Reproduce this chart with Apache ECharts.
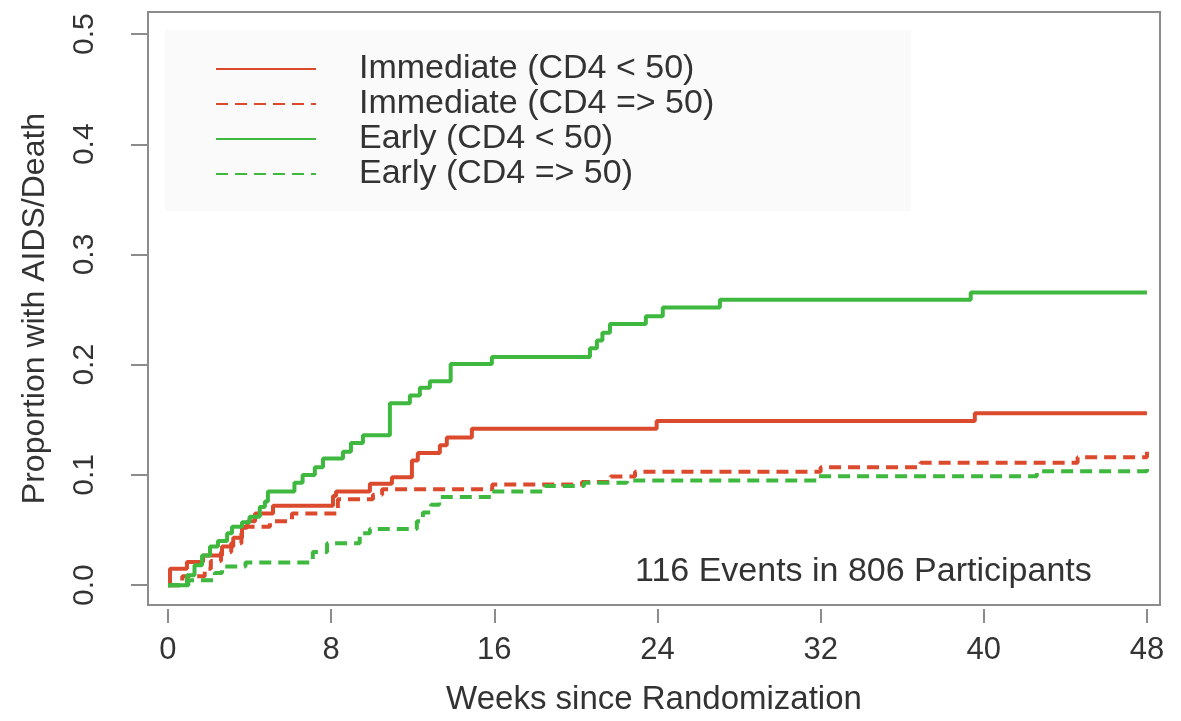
<!DOCTYPE html>
<html>
<head>
<meta charset="utf-8">
<script src="https://cdn.jsdelivr.net/npm/echarts@6/dist/echarts.min.js"></script>
<style>
  html, body { margin: 0; padding: 0; background: #ffffff; }
  #chart { width: 1181px; height: 721px; }
</style>
</head>
<body>
<div id="chart"></div>
<script>
// ---- data (Kaplan-Meier style cumulative proportions) ----
var seriesNames = ['Immediate (CD4 < 50)', 'Immediate (CD4 => 50)', 'Early (CD4 < 50)', 'Early (CD4 => 50)'];

var immLowWeeks = [0, 0.1, 0.93, 1.72, 2.65, 3.2, 3.63, 3.9, 4.27, 5.15, 8.09, 8.24, 9.9, 10.98, 11.96, 12.25, 13.33, 13.67, 14.9, 23.96, 39.56, 48];
var immLowProp  = [0, 0.015, 0.021, 0.027, 0.035, 0.043, 0.053, 0.058, 0.065, 0.072, 0.081, 0.085, 0.092, 0.098, 0.113, 0.120, 0.127, 0.134, 0.142, 0.149, 0.156, 0.156];

var immHighWeeks = [0, 0.7, 1.8, 2.1, 2.6, 3.1, 3.6, 3.8, 5.0, 6.08, 8.33, 10.05, 10.5, 15.9, 20.3, 21.7, 22.9, 32.0, 36.9, 44.6, 48];
var immHighProp  = [0, 0.008, 0.015, 0.022, 0.030, 0.038, 0.047, 0.053, 0.058, 0.065, 0.078, 0.082, 0.087, 0.0914, 0.0935, 0.0985, 0.103, 0.107, 0.111, 0.116, 0.121];

var earlyLowWeeks = [0, 0.93, 1.3, 1.67, 2.06, 2.45, 2.9, 3.14, 3.63, 4.0, 4.5, 4.75, 4.9, 6.2, 6.6, 7.2, 7.6, 8.58, 8.97, 9.56, 10.88, 11.86, 12.35, 12.84, 13.86, 15.88, 20.69, 21.03, 21.3, 21.67, 23.43, 24.26, 27.06, 39.36, 48];
var earlyLowProp  = [0, 0.009, 0.018, 0.027, 0.035, 0.040, 0.047, 0.053, 0.057, 0.062, 0.071, 0.076, 0.085, 0.093, 0.100, 0.107, 0.115, 0.121, 0.129, 0.136, 0.165, 0.172, 0.179, 0.185, 0.2007, 0.207, 0.215, 0.222, 0.229, 0.237, 0.244, 0.252, 0.259, 0.2655, 0.2655];

var earlyHighWeeks = [0, 1.0, 2.3, 2.65, 3.8, 7.1, 7.8, 9.4, 9.9, 12.2, 12.5, 12.9, 13.3, 15.9, 18.5, 20.4, 22.5, 31.8, 42.6, 48];
var earlyHighProp  = [0, 0.0045, 0.011, 0.017, 0.0206, 0.030, 0.038, 0.047, 0.051, 0.058, 0.066, 0.073, 0.080, 0.085, 0.090, 0.093, 0.095, 0.0988, 0.1033, 0.109];

var xTickValues = [0, 8, 16, 24, 32, 40, 48];
var yTickValues = [0, 0.1, 0.2, 0.3, 0.4, 0.5];
var annotationText = '116 Events in 806 Participants';
var xTitle = 'Weeks since Randomization';
var yTitle = 'Proportion with AIDS/Death';

function zip(w, p) { return w.map(function (x, i) { return [x, p[i]]; }); }

var RED = '#dc4a2e';
var GREEN = '#3fb83f';
var FONT = 'Liberation Sans, Arial, sans-serif';
var TXT = '#333333';

var chart = echarts.init(document.getElementById('chart'), null, { renderer: 'canvas' });

function mkSeries(name, data, color, dashed) {
  return {
    name: name,
    type: 'line',
    step: 'end',
    symbol: 'none',
    data: data,
    color: color,
    lineStyle: { color: color, width: 4, type: dashed ? [12, 7] : 'solid' },
    emphasis: { disabled: true },
    animation: false
  };
}

chart.setOption({
  animation: false,
  backgroundColor: '#ffffff',
  grid: {
    left: 148, right: 21, top: 12, bottom: 109,
    show: true, borderColor: '#8c8c8c', borderWidth: 2, backgroundColor: '#ffffff'
  },
  legend: {
    orient: 'vertical',
    left: 165, top: 30,
    padding: [22, 197, 20, 50],
    backgroundColor: '#fafafa',
    itemWidth: 100, itemHeight: 14, itemGap: 1,
    data: seriesNames,
    lineStyle: { width: 2 },
    itemStyle: { opacity: 0 },
    textStyle: { fontFamily: FONT, fontSize: 34, color: TXT, lineHeight: 30, padding: [0, 0, 0, 38] },
    selectedMode: false
  },
  xAxis: {
    type: 'value',
    min: -0.98, max: 48.64,
    offset: 4,
    axisLine: { show: false, onZero: false },
    axisTick: { show: true, length: 14, lineStyle: { color: '#8c8c8c', width: 2 }, customValues: xTickValues },
    axisLabel: { customValues: xTickValues, margin: 26, fontFamily: FONT, fontSize: 31, color: TXT },
    splitLine: { show: false },
    name: xTitle, nameLocation: 'middle', nameGap: 74,
    nameTextStyle: { fontFamily: FONT, fontSize: 33, color: TXT }
  },
  yAxis: {
    type: 'value',
    min: -0.018, max: 0.52,
    axisLine: { show: false, onZero: false },
    axisTick: { show: true, length: 17, lineStyle: { color: '#8c8c8c', width: 2 }, customValues: yTickValues },
    axisLabel: { customValues: yTickValues, rotate: 90, margin: 48, fontFamily: FONT, fontSize: 30, color: TXT,
      formatter: function (v) { return v.toFixed(1); } },
    splitLine: { show: false },
    name: yTitle, nameLocation: 'middle', nameGap: 97, nameRotate: 90,
    nameTextStyle: { fontFamily: FONT, fontSize: 32, color: TXT }
  },
  graphic: [{
    type: 'text', left: 635, top: 555, z: 10,
    style: { text: annotationText, fontFamily: FONT, fontSize: 34, fill: TXT }
  }],
  series: [
    mkSeries(seriesNames[0], zip(immLowWeeks, immLowProp), RED, false),
    mkSeries(seriesNames[1], zip(immHighWeeks, immHighProp), RED, true),
    mkSeries(seriesNames[2], zip(earlyLowWeeks, earlyLowProp), GREEN, false),
    mkSeries(seriesNames[3], zip(earlyHighWeeks, earlyHighProp), GREEN, true)
  ]
});
</script>
</body>
</html>
